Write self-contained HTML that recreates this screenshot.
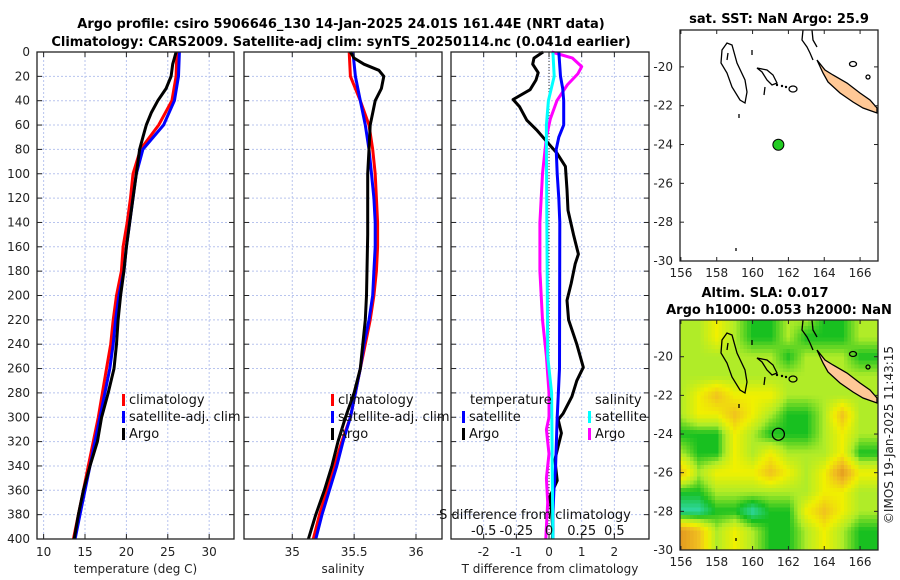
<!DOCTYPE html>
<html><head><meta charset="utf-8">
<style>
html,body{margin:0;padding:0;background:#fff;}
svg{display:block;font-family:"DejaVu Sans","Liberation Sans",sans-serif;}
.t{font-size:12px;fill:#222;}
.b{font-size:13px;font-weight:bold;fill:#000;}
</style></head>
<body>
<svg id="fig" width="900" height="580" viewBox="0 0 900 580" xmlns="http://www.w3.org/2000/svg">
<text class="b" x="341" y="28" text-anchor="middle">Argo profile: csiro 5906646_130 14-Jan-2025 24.01S 161.44E (NRT data)</text>
<text class="b" x="341" y="46" text-anchor="middle">Climatology: CARS2009. Satellite-adj clim: synTS_20250114.nc (0.041d earlier)</text>
<text class="b" x="779" y="23" text-anchor="middle">sat. SST: NaN Argo: 25.9</text>
<text class="b" x="765" y="297" text-anchor="middle">Altim. SLA: 0.017</text>
<text class="b" x="779" y="314" text-anchor="middle">Argo h1000: 0.053 h2000: NaN</text>
<text class="t" transform="translate(893,435) rotate(-90)" text-anchor="middle">©IMOS 19-Jan-2025 11:43:15</text>
<g id="g"></g>
</svg>
<script>
// ---- profile data ----
const climDepth=[0,20,40,60,80,100,120,140,160,180,200,220,240,260,280,300,320,340,360,380,400];
const tClim=[26.1,26.0,25.5,23.9,21.7,20.8,20.5,20.1,19.6,19.4,18.8,18.4,18.1,17.6,17.1,16.6,16.0,15.4,14.8,14.2,13.6];
const tSat=[26.4,26.3,25.8,24.5,22.0,21.2,20.8,20.4,20.0,19.7,19.1,18.7,18.4,18.0,17.4,16.8,16.2,15.6,15.0,14.4,13.8];
const sClim=[35.46,35.47,35.55,35.62,35.65,35.67,35.68,35.69,35.69,35.68,35.66,35.63,35.59,35.55,35.51,35.47,35.40,35.34,35.28,35.22,35.17];
const sSat=[35.49,35.51,35.55,35.59,35.62,35.64,35.66,35.67,35.67,35.66,35.65,35.62,35.58,35.55,35.51,35.47,35.41,35.36,35.30,35.24,35.19];
const tArgoDepth=[0,5,10,20,30,40,50,60,70,80,90,100,120,140,160,180,200,220,240,260,280,300,320,340,360,380,400];
const tArgo=[26.0,25.8,25.6,25.4,24.8,23.8,23.0,22.4,22.0,21.6,21.4,21.2,20.8,20.4,20.0,19.7,19.3,19.0,18.8,18.5,17.8,17.0,16.5,15.6,14.8,14.2,13.7];
const sArgoDepth=[0,5,10,15,20,30,40,50,60,80,100,150,200,220,240,260,280,300,320,340,360,380,400];
const sArgo=[35.47,35.50,35.58,35.70,35.74,35.72,35.67,35.65,35.63,35.62,35.61,35.61,35.60,35.59,35.57,35.55,35.50,35.43,35.37,35.32,35.26,35.19,35.13];
const dTArgoDepth=[0,5,10,17,23,31,39,45,56,64,72,83,94,113,130,150,166,174,190,204,220,240,259,270,283,297,302,313,327,335,352,365,379,392,400];
const dTArgo=[-0.18,-0.46,-0.5,-0.33,-0.4,-0.58,-1.1,-0.9,-0.68,-0.38,-0.12,0.24,0.5,0.55,0.58,0.75,0.9,0.8,0.68,0.55,0.6,0.85,1.05,0.85,0.7,0.43,0.28,0.38,0.25,0.18,0.25,0.03,0.08,0.12,0.1];
const dTSatDepth=[0,20,30,40,60,70,80,100,120,140,260,300,340,360,380,400];
const dTSat=[0.3,0.35,0.42,0.45,0.45,0.3,0.22,0.25,0.3,0.33,0.32,0.25,0.2,0.15,0.12,0.12];
const dSSatDepth=[0,20,40,60,80,250,280,400];
const dSSat=[0.03,0.04,-0.005,-0.02,-0.02,-0.01,0.02,0.03];
const dSArgoDepth=[0,5,12,18,27,40,55,70,100,140,180,220,250,280,300,310,330,350,370,390,400];
const dSArgo=[0.02,0.18,0.25,0.22,0.14,0.06,0.01,-0.02,-0.05,-0.07,-0.07,-0.05,-0.02,0.0,0.0,-0.02,0.0,-0.02,-0.01,-0.02,-0.025];
const depthTicks=[0,20,40,60,80,100,120,140,160,180,200,220,240,260,280,300,320,340,360,380,400];
const tTicks=[10,15,20,25,30];
const sTicks=[35,35.5,36];
const dTTicks=[-2,-1,0,1,2];
const dSTickLabels=["-0.5","-0.25","0","0.25","0.5"];
const dSTickVals=[-0.5,-0.25,0,0.25,0.5];
// ---- map data ----
const argoLon=161.44, argoLat=-24.01;
const lonTicks=[156,158,160,162,164,166];
const latTicks=[-20,-22,-24,-26,-28,-30];
// SLA field sampled at 1-degree points: rows lat -18..-29, columns lon 156..166; 0=teal 1=green 2=lime 3=yellow 4=orange-yellow 5=orange
const slaGrid=[
[2,2,3,2,1,1,2,2,1,1,2],
[2,2,3,2,1,1,2,1,1,1,2],
[2,2,2,2,2,2,1,2,2,2,1],
[2,2,2,2,2,2,2,2,2,2,2],
[2,3,4,3,3,3,2,2,2,2,2],
[2,3,3,4,3,2,1,1,2,4,2],
[1,1,1,3,2,1,1,1,2,3,2],
[2,1,1,3,2,3,2,2,2,3,1],
[4,2,3,3,3,4,3,2,3,5,3],
[1,1,2,2,2,2,2,2,3,3,2],
[0,0,1,1,0,1,1,3,4,3,2],
[5,4,2,3,2,1,1,2,3,2,1]];
const slaColors=["#30d8a8","#18c020","#b0ec28","#f0f000","#f0c020","#e49a20"];

const NS="http://www.w3.org/2000/svg";
const G=document.getElementById('g');
function mk(tag,attrs,parent){const e=document.createElementNS(NS,tag);for(const k in attrs)e.setAttribute(k,attrs[k]);(parent||G).appendChild(e);return e;}
const Y0=52,Y1=539;
const yD=d=>Y0+d*(Y1-Y0)/400;
const panels=[
 {name:'temperature-panel',x0:37,x1:234,v0:9.2,v1:33.0},
 {name:'salinity-panel',x0:244,x1:442,v0:34.61,v1:36.21},
 {name:'difference-panel',x0:451,x1:649,v0:-3.0,v1:3.06}];
panels.forEach(p=>{p.sx=v=>p.x0+(v-p.v0)*(p.x1-p.x0)/(p.v1-p.v0);});
const sx1=panels[0].sx, sx2=panels[1].sx, sx3=panels[2].sx;
const sxS=v=>sx3(v*4);

function grid(p,ticks,sx){
  ticks.forEach(v=>{const l=mk('line',{x1:sx(v),x2:sx(v),y1:Y0,y2:Y1,stroke:'#b8c4ee','stroke-width':1,'stroke-dasharray':'2,2'});
  });
  depthTicks.forEach(d=>{const l=mk('line',{x1:p.x0,x2:p.x1,y1:yD(d),y2:yD(d),stroke:'#b8c4ee','stroke-width':1,'stroke-dasharray':'2,2'});
  });
}
function frame(p,ticks,sx,labels,title){
  const r=mk('rect',{x:p.x0,y:Y0,width:p.x1-p.x0,height:Y1-Y0,fill:'none',stroke:'#222','stroke-width':1.3});
  
  depthTicks.forEach(d=>{
    mk('line',{x1:p.x0,x2:p.x0+5,y1:yD(d),y2:yD(d),stroke:'#222'});
    mk('line',{x1:p.x1-5,x2:p.x1,y1:yD(d),y2:yD(d),stroke:'#222'});
  });
  ticks.forEach((v,i)=>{
    mk('line',{x1:sx(v),x2:sx(v),y1:Y1,y2:Y1-5,stroke:'#222'});
    mk('line',{x1:sx(v),x2:sx(v),y1:Y0,y2:Y0+5,stroke:'#222'});
    const t=mk('text',{x:sx(v),y:556,'text-anchor':'middle',class:'t'});t.textContent=labels?labels[i]:String(v);
    
  });
  const t=mk('text',{x:(p.x0+p.x1)/2,y:573,'text-anchor':'middle',class:'t'});t.textContent=title;
  
}
function line(depths,vals,sx,color,name){
  const pts=depths.map((d,i)=>sx(vals[i]).toFixed(1)+','+yD(d).toFixed(1)).join(' ');
  const l=mk('polyline',{points:pts,fill:'none',stroke:color,'stroke-width':3,'stroke-linejoin':'round'});
  
}
function legend(x,y,color,label,name){
  const m=mk('rect',{x:x,y:y-10,width:3,height:12,fill:color});
  
  if(label){const t=mk('text',{x:x+7,y:y,class:'t',style:'font-size:13px;fill:#111'});t.textContent=label;
  }
}
grid(panels[0],tTicks,sx1);
line(climDepth,tClim,sx1,'#ff0000','temperature-climatology-line');
line(climDepth,tSat,sx1,'#0000ff','temperature-satellite-line');
line(tArgoDepth,tArgo,sx1,'#000','temperature-argo-line');
frame(panels[0],tTicks,sx1,null,'temperature (deg C)');
depthTicks.forEach(d=>{const t=mk('text',{x:30,y:yD(d)+4,'text-anchor':'end',class:'t'});t.textContent=d;
 });
legend(122,404,'#ff0000','climatology','legend-climatology');
legend(122,421,'#0000ff','satellite-adj. clim','legend-satellite');
legend(122,438,'#000','Argo','legend-argo');
grid(panels[1],sTicks,sx2);
line(climDepth,sClim,sx2,'#ff0000','salinity-climatology-line');
line(climDepth,sSat,sx2,'#0000ff','salinity-satellite-line');
line(sArgoDepth,sArgo,sx2,'#000','salinity-argo-line');
frame(panels[1],sTicks,sx2,['35','35.5','36'],'salinity');
legend(331,404,'#ff0000','climatology','legend2-climatology');
legend(331,421,'#0000ff','satellite-adj. clim','legend2-satellite');
legend(331,438,'#000','Argo','legend2-argo');
grid(panels[2],dTTicks,sx3);
const z=mk('line',{x1:sx3(0),x2:sx3(0),y1:Y0,y2:Y1,stroke:'#333','stroke-width':1,'stroke-dasharray':'1,2'});

line(dSArgoDepth,dSArgo,sxS,'#ff00ff','salinity-diff-argo-line');
line(dTArgoDepth,dTArgo,sx3,'#000','temperature-diff-argo-line');
line(dTSatDepth,dTSat,sx3,'#0000ff','temperature-diff-satellite-line');
line(dSSatDepth,dSSat,sxS,'#00ffff','salinity-diff-satellite-line');
frame(panels[2],dTTicks,sx3,null,'T difference from climatology');
(function(){const t=mk('text',{x:470,y:404,class:'t',style:'font-size:13px;fill:#111'});t.textContent='temperature';
 
 const s=mk('text',{x:595,y:404,class:'t',style:'font-size:13px;fill:#111'});s.textContent='salinity';
 })();
legend(462,421,'#0000ff','satellite','legend3-t-satellite');
legend(462,438,'#000','Argo','legend3-t-argo');
legend(588,421,'#00ffff','satellite','legend3-s-satellite');
legend(588,438,'#ff00ff','Argo','legend3-s-argo');
(function(){const t=mk('text',{x:535,y:519,'text-anchor':'middle',class:'t',style:'font-size:13px;fill:#111'});t.textContent='S difference from climatology';
 
 dSTickVals.forEach((v,i)=>{const l=mk('text',{x:sxS(v),y:535,'text-anchor':'middle',class:'t',style:'font-size:13px;fill:#111'});l.textContent=dSTickLabels[i];
 });})();

const MX0=680,MX1=878,LON0=155.95,LON1=167.0,LAT0=-18.1,LAT1=-30.0;
function mapFns(top,bot){return {x:lon=>MX0+(lon-LON0)*(MX1-MX0)/(LON1-LON0),y:lat=>top+(lat-LAT0)*(bot-top)/(LAT1-LAT0),top:top,bot:bot};}
const m1=mapFns(30,261), m2=mapFns(320,550);
const defs=mk('defs',{});
const cp=mk('clipPath',{id:'clip2'},defs);mk('rect',{x:MX0,y:m2.top,width:MX1-MX0,height:m2.bot-m2.top},cp);
const hg=mk('g',{'clip-path':'url(#clip2)','shape-rendering':'crispEdges'});

const nr=slaGrid.length,nc=slaGrid[0].length;
const hex=h=>[parseInt(h.slice(1,3),16),parseInt(h.slice(3,5),16),parseInt(h.slice(5,7),16)];
const pal=slaColors.map(hex);
function colorOf(v){v=Math.max(0,Math.min(pal.length-1,v));const i=Math.min(pal.length-2,Math.floor(v)),f=v-i;
  const c=pal[i].map((a,k)=>Math.round(a+(pal[i+1][k]-a)*f));return 'rgb('+c.join(',')+')';}
function sample(r,c){r=Math.max(0,Math.min(nr-1,r));c=Math.max(0,Math.min(nc-1,c));
  const r0=Math.min(nr-2,Math.floor(r)),c0=Math.min(nc-2,Math.floor(c)),fr=r-r0,fc=c-c0;
  const a=slaGrid[r0][c0],b=slaGrid[r0][c0+1],d=slaGrid[r0+1][c0],e=slaGrid[r0+1][c0+1];
  return (a*(1-fc)+b*fc)*(1-fr)+(d*(1-fc)+e*fc)*fr;}
const SUB=0.2;
for(let lat=-18.0;lat>-30.2;lat-=SUB)for(let lon=155.9;lon<167.1;lon+=SUB){
  const v=sample(-18-(lat-SUB/2),(lon+SUB/2)-156);
  const x=m2.x(lon),y=m2.y(lat),w=m2.x(lon+SUB)-x,h=m2.y(lat-SUB)-y;
  const cell=mk('rect',{x:x.toFixed(2),y:y.toFixed(2),width:(w+0.6).toFixed(2),height:(h+0.6).toFixed(2),fill:colorOf(v)},hg);
  
  
}
function coast(m){
  const ox=MX0,oy=m.top;const g=mk('g',{fill:'none',stroke:'#000','stroke-width':1.3});
  
  const P=(arr,close,fill)=>mk('path',{d:'M'+arr.map(p=>(ox+p[0])+','+(oy+p[1])).join('L')+(close?'Z':''),fill:fill||'none'},g);
  P([[47,13],[42,20],[41,33],[47,43],[52,57],[60,70],[65,73],[67,62],[65,50],[57,33],[52,15]],true);
  P([[48,23],[47,30]],false);
  P([[72,20],[72,25]],false);P([[59,84],[59,88]],false);P([[56,218],[56,221]],false);
  P([[77,38],[87,40],[93,45],[97,53],[92,55],[87,50],[82,42]],true);
  P([[85,57],[84,65]],false);
  [[97,55],[102,56],[106,57]].forEach(p=>mk('circle',{cx:ox+p[0],cy:oy+p[1],r:1.2,fill:'#000',stroke:'none'},g));
  mk('ellipse',{cx:ox+113,cy:oy+59,rx:4,ry:3},g);
  P([[123,0],[122,10],[127,17],[130,23],[133,30]],false);
  P([[132,0],[133,10],[137,17]],false);
  P([[137,30],[145,40],[153,45],[167,53],[180,63],[190,70],[197,78],[197,83],[183,78],[173,72],[160,63],[148,52],[143,43]],true,'#ffc896');
  mk('ellipse',{cx:ox+173,cy:oy+34,rx:3.5,ry:2.5},g);
  mk('ellipse',{cx:ox+188,cy:oy+47,rx:2,ry:2},g);
}
function mapFrame(m,name){
  const r=mk('rect',{x:MX0,y:m.top,width:MX1-MX0,height:m.bot-m.top,fill:'none',stroke:'#222','stroke-width':1.3});
  
  lonTicks.forEach(v=>{mk('line',{x1:m.x(v),x2:m.x(v),y1:m.bot,y2:m.bot-4,stroke:'#222'});mk('line',{x1:m.x(v),x2:m.x(v),y1:m.top,y2:m.top+4,stroke:'#222'});
    const t=mk('text',{x:m.x(v),y:m.bot+16,'text-anchor':'middle',class:'t'});t.textContent=v;
    });
  latTicks.forEach(v=>{mk('line',{x1:MX0,x2:MX0+4,y1:m.y(v),y2:m.y(v),stroke:'#222'});mk('line',{x1:MX1-4,x2:MX1,y1:m.y(v),y2:m.y(v),stroke:'#222'});
    const t=mk('text',{x:673,y:m.y(v)+4,'text-anchor':'end',class:'t'});t.textContent=v;
    });
}
coast(m1);coast(m2);
const d1=mk('circle',{cx:m1.x(argoLon),cy:m1.y(argoLat),r:5.5,fill:'#22cc22',stroke:'#000','stroke-width':1});

const d2=mk('circle',{cx:m2.x(argoLon),cy:m2.y(argoLat),r:6,fill:'none',stroke:'#000','stroke-width':1.3});

mapFrame(m1,'sst-map');mapFrame(m2,'sla-map');
</script>
</body></html>
